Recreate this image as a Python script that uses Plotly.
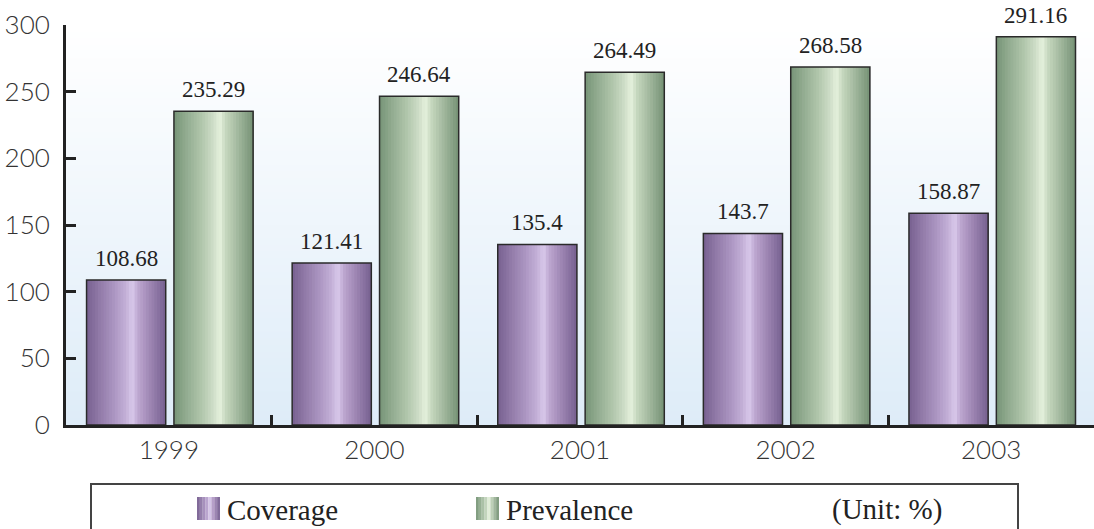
import plotly.graph_objects as go

# Data
years = ["1999", "2000", "2001", "2002", "2003"]
coverage = [108.68, 121.41, 135.4, 143.7, 158.87]
prevalence = [235.29, 246.64, 264.49, 268.58, 291.16]
y_ticks = [0, 50, 100, 150, 200, 250, 300]

# Cylinder-like shading stops for each series
PURPLE_STOPS = [(0.0, "#776090"), (0.15, "#8f78a6"), (0.35, "#ac96c2"), (0.5, "#c4b0d8"),
                (0.58, "#d9c9eb"), (0.65, "#bda7d0"), (0.8, "#9f87b4"), (1.0, "#75608f")]
GREEN_STOPS = [(0.0, "#779477"), (0.15, "#91ab8f"), (0.35, "#b1c6ac"), (0.5, "#cfdec8"),
               (0.58, "#e5f1dd"), (0.65, "#c7d8bf"), (0.8, "#a4baa0"), (1.0, "#759174")]


def hex_rgb(h):
    h = h.lstrip("#")
    return tuple(int(h[i:i + 2], 16) for i in (0, 2, 4))


def shade(stops, t):
    for (t0, c0), (t1, c1) in zip(stops, stops[1:]):
        if t0 <= t <= t1:
            f = 0 if t1 == t0 else (t - t0) / (t1 - t0)
            a, b = hex_rgb(c0), hex_rgb(c1)
            r, g, bl = (round(a[k] + (b[k] - a[k]) * f) for k in range(3))
            return f"rgb({r},{g},{bl})"
    return stops[-1][1]


fig = go.Figure()

BAR_W = 0.385
SLICES = 28
series = [
    ("Coverage", coverage, -0.40, PURPLE_STOPS),
    ("Prevalence", prevalence, 0.025, GREEN_STOPS),
]

annotations = []
for name, vals, off, stops in series:
    step = BAR_W / SLICES
    for i in range(SLICES):
        # each slice runs to the bar's right edge; later slices paint over earlier ones
        fig.add_trace(go.Bar(
            x=years, y=vals, offset=off + i * step, width=BAR_W - i * step,
            marker=dict(color=shade(stops, (i + 0.5) / SLICES), line=dict(width=0)),
            hoverinfo="skip", showlegend=False,
        ))
    # outline
    fig.add_trace(go.Bar(
        x=years, y=vals, offset=off, width=BAR_W, name=name,
        marker=dict(color="rgba(0,0,0,0)", line=dict(color="#2a2a2a", width=1.5)),
        showlegend=False,
    ))
    # value labels above each bar
    for k, v in enumerate(vals):
        annotations.append(dict(
            x=k + off + BAR_W / 2, y=v, xref="x", yref="y",
            text=str(v), showarrow=False, xanchor="center", yanchor="bottom", yshift=7,
            font=dict(family="Liberation Serif", size=23, color="#222"),
        ))

# plot-area background: white at the top fading to pale blue at the bottom
shapes = []
N_BG = 60
for i in range(N_BG):
    t = i / (N_BG - 1)
    a, b = hex_rgb("#deecf8"), hex_rgb("#ffffff")
    col = "rgb({},{},{})".format(*(round(a[k] + (b[k] - a[k]) * t) for k in range(3)))
    shapes.append(dict(type="rect", xref="paper", yref="paper", x0=0, x1=1,
                       y0=i / N_BG, y1=(i + 1) / N_BG + 0.002, fillcolor=col,
                       line=dict(width=0), layer="below"))

# legend frame below the chart (paper coords: plot area is 1028 x 400 px)
PW, PH = 1028.0, 400.0
def px_x(x):
    return (x - 66) / PW
def px_y(y):
    return (425 - y) / PH

shapes.append(dict(type="rect", xref="paper", yref="paper",
                   x0=px_x(91), x1=px_x(1018), y0=px_y(484), y1=px_y(560),
                   line=dict(color="#444", width=2), fillcolor="rgba(0,0,0,0)"))

LEGEND_FONT = dict(family="Liberation Serif", size=29, color="#222")
legend_items = [("Coverage", PURPLE_STOPS, 197), ("Prevalence", GREEN_STOPS, 476)]
for label, stops, sx in legend_items:
    n = 8
    sw = 23.0
    for i in range(n):
        shapes.append(dict(type="rect", xref="paper", yref="paper",
                           x0=px_x(sx + i * sw / n), x1=px_x(sx + (i + 1) * sw / n),
                           y0=px_y(520), y1=px_y(497),
                           fillcolor=shade(stops, (i + 0.5) / n), line=dict(width=0)))
    annotations.append(dict(text=label, xref="paper", yref="paper",
                            x=px_x(sx + 28), y=px_y(510), xanchor="left", yanchor="middle",
                            showarrow=False, font=LEGEND_FONT))
annotations.append(dict(text="(Unit: %)", xref="paper", yref="paper",
                        x=px_x(830), y=px_y(510), xanchor="left", yanchor="middle",
                        showarrow=False, font=LEGEND_FONT))

TICK_FONT = dict(family="Lato", size=26, color="#333", weight=300)

fig.update_layout(
    width=1094, height=529, autosize=False,
    margin=dict(l=66, r=0, t=25, b=104),
    barmode="overlay",
    paper_bgcolor="white", plot_bgcolor="white",
    shapes=shapes, annotations=annotations,
    showlegend=False,
    xaxis=dict(
        type="category", range=[-0.5, 4.5],
        showline=True, linecolor="#222", linewidth=3,
        ticks="inside", tickson="boundaries", ticklen=10, tickwidth=3, tickcolor="#222",
        tickfont=TICK_FONT,
        showgrid=False, zeroline=False,
    ),
    yaxis=dict(
        range=[0, 300], tickvals=y_ticks,
        showline=True, linecolor="#222", linewidth=3,
        ticks="inside", ticklen=10, tickwidth=3, tickcolor="#222",
        tickfont=TICK_FONT,
        ticklabelstandoff=8,
        showgrid=False, zeroline=False,
    ),
)

fig.write_html("out.html")
